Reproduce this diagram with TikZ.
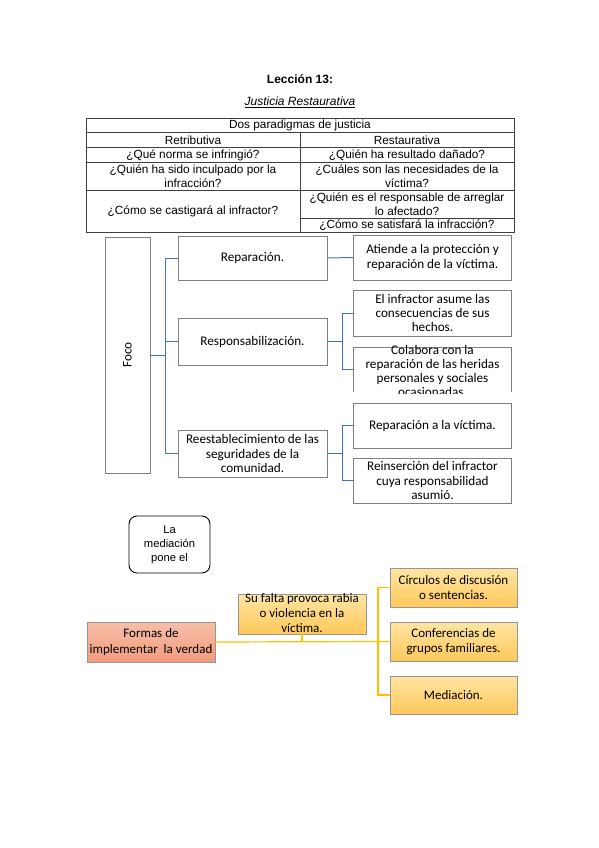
\documentclass[tikz,border=0pt]{standalone}
\usepackage{fontspec}
\setmainfont{Liberation Sans}
\newfontfamily\calfont{Carlito}
\begin{document}
\begin{tikzpicture}[x=1pt,y=-1pt,
  tabtxt/.style={inner sep=0pt,align=center,font=\fontsize{11.8}{14}\selectfont},
  gbox/.style={draw={rgb,255:red,128;green,128;blue,128},line width=0.6pt,inner sep=0pt,align=center,
    font=\calfont\fontsize{13.2}{14.2}\selectfont},
  btxt/.style={inner sep=0pt,align=center,font=\calfont\fontsize{13.2}{14.2}\selectfont},
  blueline/.style={draw={rgb,255:red,68;green,114;blue,196},line width=1pt},
  ybox/.style={draw={rgb,255:red,150;green,150;blue,150},line width=0.6pt,inner sep=0pt,align=center,
    top color={rgb,255:red,255;green,229;blue,163},bottom color={rgb,255:red,255;green,200;blue,90},
    font=\calfont\fontsize{13}{15.5}\selectfont},
  yline/.style={draw={rgb,255:red,255;green,192;blue,0},line width=1.2pt}
]
\useasboundingbox (0,0) rectangle (599,848);

% titles
\node[inner sep=0pt,font=\bfseries\fontsize{12}{14}\selectfont] (t1) at (300,79) {Lección 13:};
\node[inner sep=0pt,font=\itshape\fontsize{12}{14}\selectfont] (t2) at (300,102) {\underline{Justicia Restaurativa}};

% table
\draw[line width=0.7pt,black!75] (86,118) rectangle (514,232);
\draw[line width=0.7pt,black!75] (86,132) -- (514,132);
\draw[line width=0.7pt,black!75] (86,147) -- (514,147);
\draw[line width=0.7pt,black!75] (86,162) -- (514,162);
\draw[line width=0.7pt,black!75] (86,190) -- (514,190);
\draw[line width=0.7pt,black!75] (300,218) -- (514,218);
\draw[line width=0.7pt,black!75] (300,132) -- (300,232);
\node[tabtxt] (h0) at (300,125.5) {Dos paradigmas de justicia};
\node[tabtxt] (h1) at (193,140) {Retributiva};
\node[tabtxt] (h2) at (407,140) {Restaurativa};
\node[tabtxt] (a1) at (193,155) {¿Qué norma se infringió?};
\node[tabtxt] (b1) at (407,155) {¿Quién ha resultado dañado?};
\node[tabtxt] (a2) at (193,176.5) {¿Quién ha sido inculpado por la\\infracción?};
\node[tabtxt] (b2) at (407,176.5) {¿Cuáles son las necesidades de la\\víctima?};
\node[tabtxt] (a3) at (193,211.5) {¿Cómo se castigará al infractor?};
\node[tabtxt] (b3) at (407,204.5) {¿Quién es el responsable de arreglar\\lo afectado?};
\node[tabtxt] (b4) at (407,225.5) {¿Cómo se satisfará la infracción?};

% Foco tree
\node[gbox,minimum width=45pt,minimum height=236pt,label={[rotate=90,font=\calfont\fontsize{13.2}{14}\selectfont]center:Foco}] (foco) at (127.5,355) {};
\node[gbox,minimum width=149pt,minimum height=44pt] (rep) at (252.5,258) {Reparación.};
\node[gbox,minimum width=149pt,minimum height=47pt] (resp) at (252.5,341.5) {Responsabilización.};
\node[gbox,minimum width=149pt,minimum height=47pt] (rees) at (252.5,453.5) {Reestablecimiento de las\\seguridades de la\\comunidad.};

\node[gbox,minimum width=158pt,minimum height=45pt] (c1) at (432.5,257.5) {Atiende a la protección y\\reparación de la víctima.};
\node[gbox,minimum width=158pt,minimum height=46pt] (c2) at (432.5,313) {El infractor asume las\\consecuencias de sus\\hechos.};
\node[draw=none,inner sep=0pt,minimum width=158pt,minimum height=45pt] (c3) at (432.5,369.5) {};
\draw[draw={rgb,255:red,128;green,128;blue,128},line width=0.6pt] (c3.south west) -- (c3.north west) -- (c3.north east) -- (c3.south east);
\begin{scope}
\clip (350,330) rectangle (515,393);
\node[btxt] (c3t) at (432.5,371) {Colabora con la\\reparación de las heridas\\personales y sociales\\ocasionadas.};
\end{scope}
\node[gbox,minimum width=158pt,minimum height=45pt] (c4) at (432.5,425.5) {Reparación a la víctima.};
\node[gbox,minimum width=158pt,minimum height=45pt] (c5) at (432.5,480.5) {Reinserción del infractor\\cuya responsabilidad\\asumió.};

\coordinate (k1) at (165,355);
\coordinate (k2) at (342,341.5);
\coordinate (k3) at (342,453.5);
\draw[blueline] (foco.east) -- (k1);
\draw[blueline] (rep.west) -| (k1);
\draw[blueline] (rees.west) -| (k1);
\draw[blueline] (resp.west) -- (resp.west -| k1);
\draw[blueline] (rep.east) -- (c1.west);
\draw[blueline] (resp.east) -- (k2);
\draw[blueline] (c2.west) -| (k2);
\draw[blueline] (c3.west) -| (k2);
\draw[blueline] (rees.east) -- (k3);
\draw[blueline] (c4.west) -| (k3);
\draw[blueline] (c5.west) -| (k3);

% bottom section
\node[draw=black,line width=0.9pt,rounded corners=8pt,minimum width=81pt,minimum height=57pt,inner sep=0pt,align=center,
  font=\fontsize{11.2}{14}\selectfont] (med0) at (169.5,544.5) {La\\mediación\\pone el};

\node[draw={rgb,255:red,150;green,150;blue,150},line width=0.6pt,inner sep=0pt,align=center,
  top color={rgb,255:red,247;green,190;blue,168},bottom color={rgb,255:red,242;green,155;blue,125},
  minimum width=128pt,minimum height=40pt,font=\calfont\fontsize{13}{15.5}\selectfont] (formas) at (151,642) {Formas de\\implementar\ \ la verdad};

\node[ybox,minimum width=128pt,minimum height=40pt] (suf) at (302,614) {};
\node[inner sep=0pt,align=center,font=\calfont\fontsize{13}{15}\selectfont] (suft) at (302,613.5) {Su falta provoca rabia\\o violencia en la\\víctima.};

\node[ybox,minimum width=127pt,minimum height=39pt] (circ) at (453.5,587.5) {Círculos de discusión\\o sentencias.};
\node[ybox,minimum width=127pt,minimum height=39pt] (conf) at (453.5,641.5) {Conferencias de\\grupos familiares.};
\node[ybox,minimum width=127pt,minimum height=38pt] (medi) at (453.5,695) {Mediación.};

\coordinate (k4) at (378,641.5);
\draw[yline] (formas.east) -- (k4) -- (conf.west);
\draw[yline] (circ.west) -| (k4);
\draw[yline] (medi.west) -| (k4);
\draw[yline] (suf.south) -- (suf.south |- k4);
\end{tikzpicture}
\end{document}
